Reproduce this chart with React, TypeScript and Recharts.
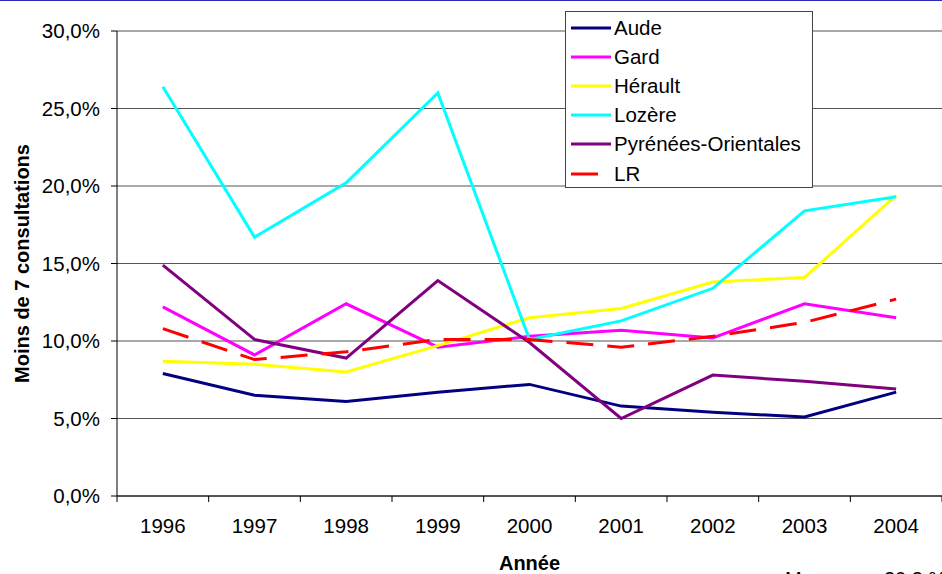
import React from "react";
import { CartesianGrid, Legend, Line, LineChart, XAxis, YAxis } from "recharts";

// Moins de 7 consultations (%) par département, 1996-2004
const years = ["1996", "1997", "1998", "1999", "2000", "2001", "2002", "2003", "2004"];
const aude = [7.9, 6.5, 6.1, 6.7, 7.2, 5.8, 5.4, 5.1, 6.7];
const gard = [12.2, 9.1, 12.4, 9.6, 10.3, 10.7, 10.2, 12.4, 11.5];
const herault = [8.7, 8.5, 8.0, 9.7, 11.5, 12.1, 13.8, 14.1, 19.4];
const lozere = [26.4, 16.7, 20.2, 26.0, 10.1, 11.3, 13.4, 18.4, 19.3];
const pyrenees = [14.9, 10.1, 8.9, 13.9, 9.9, 5.0, 7.8, 7.4, 6.9];
const lr = [10.8, 8.8, 9.3, 10.1, 10.1, 9.6, 10.3, 11.2, 12.7];
const yTicks = [0, 5, 10, 15, 20, 25, 30];
const edgeTicks = [0, 1, 2, 3, 4, 5, 6, 7, 8, 9];

const series = [
  { key: "Aude", color: "#000080" },
  { key: "Gard", color: "#ff00ff" },
  { key: "Hérault", color: "#ffff00" },
  { key: "Lozère", color: "#00ffff" },
  { key: "Pyrénées-Orientales", color: "#800080" },
  { key: "LR", color: "#ff0000", dash: "27 14" },
];

const rows = years.map((y, i) => ({
  pos: i + 0.5,
  year: y,
  Aude: aude[i],
  Gard: gard[i],
  Hérault: herault[i],
  Lozère: lozere[i],
  "Pyrénées-Orientales": pyrenees[i],
  LR: lr[i],
}));

const W = 942;
const H = 574;
const LEFT = 117;
const HALF = (W - LEFT) / years.length / 2;
const font = "'Liberation Sans', Arial, sans-serif";
const pct = (v: number) => `${v.toFixed(1).replace(".", ",")}%`;

function YearTick(props: any) {
  const { x, y, payload } = props;
  const label = years[payload.value];
  if (!label) return null;
  return (
    <text x={x + HALF} y={y} dy="0.71em" textAnchor="middle" fill="#000" fontSize={20.5} fontFamily={font}>
      {label}
    </text>
  );
}

function LegendBox() {
  return (
    <div
      style={{
        width: 246,
        height: 174,
        border: "1px solid #444",
        background: "#fff",
        fontFamily: font,
        fontSize: 20.5,
        color: "#000",
        paddingTop: 1,
        boxSizing: "content-box",
      }}
    >
      {series.map((s) => (
        <div key={s.key} style={{ display: "flex", alignItems: "center", height: 29.2 }}>
          <svg width={48} height={10} style={{ flex: "none" }}>
            <line x1={5} y1={5} x2={45} y2={5} stroke={s.color} strokeWidth={3} strokeDasharray={s.dash} />
          </svg>
          <span style={{ lineHeight: "22px" }}>{s.key}</span>
        </div>
      ))}
    </div>
  );
}

export default function App() {
  return (
    <div
      style={{
        position: "fixed",
        left: 0,
        top: 0,
        width: W,
        height: H,
        overflow: "hidden",
        background: "#fff",
        borderTop: "1px solid #2b2bb8",
        boxSizing: "border-box",
      }}
    >
      <div style={{ position: "absolute", left: 0, top: -1 }}>
        <LineChart width={W} height={H} data={rows} margin={{ top: 31, right: 0, left: 0, bottom: 0 }}>
          <CartesianGrid vertical={false} stroke="#555" strokeWidth={1.2} />
          <XAxis
            dataKey="pos"
            type="number"
            domain={[0, 9]}
            ticks={edgeTicks}
            interval={0}
            height={78}
            tickSize={6}
            tickMargin={16}
            axisLine={{ stroke: "#000" }}
            tickLine={{ stroke: "#000" }}
            tick={<YearTick />}
            label={{
              value: "Année",
              position: "insideBottom",
              offset: 4,
              style: { fontFamily: font, fontSize: 20, fontWeight: "bold", fill: "#000" },
            }}
          />
          <YAxis
            domain={[0, 30]}
            ticks={yTicks}
            width={LEFT}
            tickSize={6}
            tickMargin={11}
            tickFormatter={pct}
            axisLine={{ stroke: "#000" }}
            tickLine={{ stroke: "#000" }}
            tick={{ fill: "#000", fontSize: 20.5, fontFamily: font }}
            label={{
              value: "Moins de 7 consultations",
              angle: -90,
              position: "insideLeft",
              offset: 22,
              style: { textAnchor: "middle", fontFamily: font, fontSize: 20, fontWeight: "bold", fill: "#000" },
            }}
          />
          <Legend
            layout="vertical"
            align="center"
            verticalAlign="middle"
            wrapperStyle={{ left: 565, top: 11, width: 248, height: 176 }}
            content={() => <LegendBox />}
          />
          {series.map((s) => (
            <Line
              key={s.key}
              dataKey={s.key}
              type="linear"
              stroke={s.color}
              strokeWidth={3}
              strokeDasharray={s.dash}
              dot={false}
              activeDot={false}
              isAnimationActive={false}
            />
          ))}
        </LineChart>
      </div>
      <div
        style={{
          position: "absolute",
          left: 785,
          top: 568,
          fontFamily: font,
          fontSize: 20,
          lineHeight: "20px",
          whiteSpace: "nowrap",
          color: "#000",
        }}
      >
        Moyenne : 20,3 %
      </div>
    </div>
  );
}
